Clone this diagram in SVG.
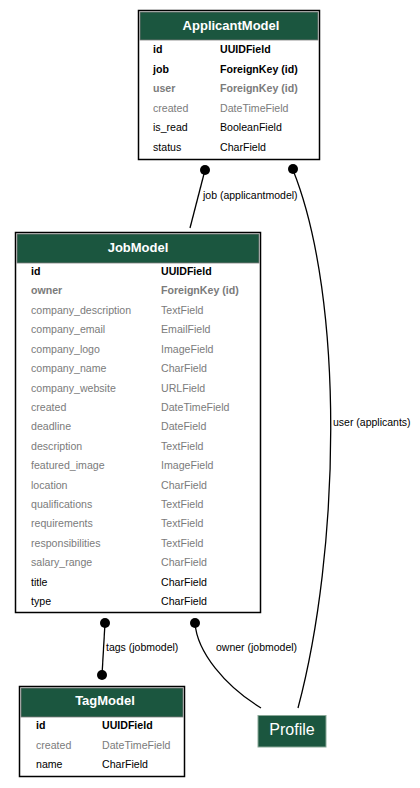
<svg xmlns="http://www.w3.org/2000/svg" width="420" height="788" viewBox="0 0 420 788">
<style>
.box{fill:#fff;stroke:#000;stroke-width:1.5}
.hdr{fill:#1b563f;stroke:#7b7b7b;stroke-width:0.8}
.title{font-family:"Liberation Sans",Arial,sans-serif;font-size:13px;font-weight:bold;fill:#fff;text-anchor:middle}
.f{font-family:"Liberation Sans",Arial,sans-serif;font-size:10.6px;fill:#000}
.k{font-weight:bold}
.g{fill:#7b7b7b}
.edge{fill:none;stroke:#000;stroke-width:1.3}
.dot{fill:#000}
.lbl{font-family:"Liberation Sans",Arial,sans-serif;font-size:10.5px;fill:#000}
</style>
<rect width="420" height="788" fill="#fff"/>
<g id="connectors">
<line class="edge" x1="205" y1="170" x2="190" y2="228"/>
<circle class="dot" cx="205" cy="170" r="5"/>
<text class="lbl" x="203" y="199">job (applicantmodel)</text>
<path class="edge" d="M293,170 C345,300 340,550 298,708"/>
<circle class="dot" cx="293" cy="169" r="5"/>
<text class="lbl" x="333" y="426">user (applicants)</text>
<path class="edge" d="M195,623 C197,652 225,686 261,708"/>
<circle class="dot" cx="195" cy="623" r="5"/>
<text class="lbl" x="216" y="651">owner (jobmodel)</text>
<line class="edge" x1="105" y1="623" x2="102" y2="675"/>
<circle class="dot" cx="105" cy="623" r="5"/>
<circle class="dot" cx="102" cy="675" r="5"/>
<text class="lbl" x="106" y="651">tags (jobmodel)</text>
</g>
<g id="ApplicantModel">
<rect class="box" x="138.5" y="10.5" width="181" height="149"/>
<rect class="hdr" x="140" y="12" width="178" height="28"/>
<text class="title" x="231" y="30">ApplicantModel</text>
<text class="f k" x="153" y="53">id</text><text class="f k" x="220" y="53">UUIDField</text>
<text class="f k" x="153" y="72.5">job</text><text class="f k" x="220" y="72.5">ForeignKey (id)</text>
<text class="f k g" x="153" y="92">user</text><text class="f k g" x="220" y="92">ForeignKey (id)</text>
<text class="f g" x="153" y="111.5">created</text><text class="f g" x="220" y="111.5">DateTimeField</text>
<text class="f" x="153" y="131">is_read</text><text class="f" x="220" y="131">BooleanField</text>
<text class="f" x="153" y="150.5">status</text><text class="f" x="220" y="150.5">CharField</text>
</g>
<g id="JobModel">
<rect class="box" x="15.5" y="232.5" width="245" height="380"/>
<rect class="hdr" x="17" y="234" width="242" height="29"/>
<text class="title" x="138" y="252">JobModel</text>
<text class="f k" x="31" y="275">id</text><text class="f k" x="161" y="275">UUIDField</text>
<text class="f k g" x="31" y="294.4">owner</text><text class="f k g" x="161" y="294.4">ForeignKey (id)</text>
<text class="f g" x="31" y="313.8">company_description</text><text class="f g" x="161" y="313.8">TextField</text>
<text class="f g" x="31" y="333.2">company_email</text><text class="f g" x="161" y="333.2">EmailField</text>
<text class="f g" x="31" y="352.6">company_logo</text><text class="f g" x="161" y="352.6">ImageField</text>
<text class="f g" x="31" y="372">company_name</text><text class="f g" x="161" y="372">CharField</text>
<text class="f g" x="31" y="391.5">company_website</text><text class="f g" x="161" y="391.5">URLField</text>
<text class="f g" x="31" y="410.9">created</text><text class="f g" x="161" y="410.9">DateTimeField</text>
<text class="f g" x="31" y="430.3">deadline</text><text class="f g" x="161" y="430.3">DateField</text>
<text class="f g" x="31" y="449.7">description</text><text class="f g" x="161" y="449.7">TextField</text>
<text class="f g" x="31" y="469.1">featured_image</text><text class="f g" x="161" y="469.1">ImageField</text>
<text class="f g" x="31" y="488.5">location</text><text class="f g" x="161" y="488.5">CharField</text>
<text class="f g" x="31" y="507.9">qualifications</text><text class="f g" x="161" y="507.9">TextField</text>
<text class="f g" x="31" y="527.3">requirements</text><text class="f g" x="161" y="527.3">TextField</text>
<text class="f g" x="31" y="546.8">responsibilities</text><text class="f g" x="161" y="546.8">TextField</text>
<text class="f g" x="31" y="566.2">salary_range</text><text class="f g" x="161" y="566.2">CharField</text>
<text class="f" x="31" y="585.6">title</text><text class="f" x="161" y="585.6">CharField</text>
<text class="f" x="31" y="605">type</text><text class="f" x="161" y="605">CharField</text>
</g>
<g id="TagModel">
<rect class="box" x="19.5" y="686.5" width="165" height="90"/>
<rect class="hdr" x="21" y="688" width="162" height="29"/>
<text class="title" x="105" y="705">TagModel</text>
<text class="f k" x="36" y="729">id</text><text class="f k" x="102" y="729">UUIDField</text>
<text class="f g" x="36" y="748.5">created</text><text class="f g" x="102" y="748.5">DateTimeField</text>
<text class="f" x="36" y="768">name</text><text class="f" x="102" y="768">CharField</text>
</g>
<g id="Profile">
<rect x="258" y="715.5" width="68" height="31.5" fill="#1b563f" stroke="#8aa898" stroke-width="1"/>
<text x="292" y="735" font-family="'Liberation Sans',Arial,sans-serif" font-size="16" fill="#fff" text-anchor="middle">Profile</text>
</g>
</svg>
